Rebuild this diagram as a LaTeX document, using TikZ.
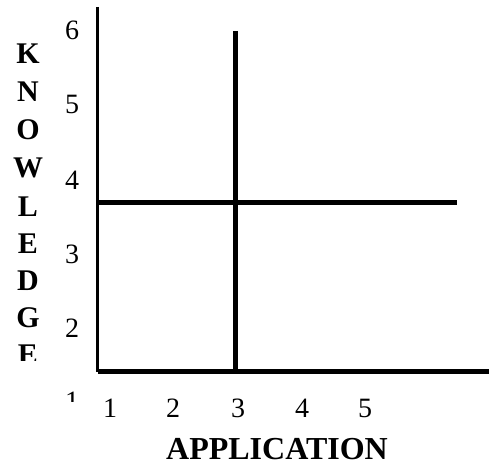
\documentclass[tikz,border=0pt]{standalone}
\usepackage{fontspec}
\setmainfont{Liberation Serif}
\usepackage{tikz}
\pgfdeclarelayer{edgelayer}
\pgfdeclarelayer{nodelayer}
\pgfsetlayers{edgelayer,nodelayer,main}
\tikzstyle{none}=[inner sep=0pt]
\tikzstyle{edge}=[draw=black, line width=4.6pt]
\tikzstyle{tick}=[inner sep=0pt, font=\fontsize{28}{28}\selectfont]
\tikzstyle{letter}=[inner sep=0pt, font=\fontsize{30}{30}\selectfont\bfseries]
\tikzstyle{title}=[inner sep=0pt, font=\fontsize{32}{32}\selectfont\bfseries]

\begin{document}
\begin{tikzpicture}[x=1pt, y=-1pt]
			\useasboundingbox (0, 0) rectangle (495, 468);
			\begin{pgfonlayer}{nodelayer}
			\node [style=none] (0) at (97.5, 7) {};
			\node [style=none] (1) at (97.5, 371.5) {};
			\node [style=none] (2) at (489, 371.5) {};
			\node [style=none] (3) at (97.5, 202.5) {};
			\node [style=none] (4) at (457, 202.5) {};
			\node [style=none] (5) at (235.7, 31) {};
			\node [style=none] (6) at (235.7, 371.5) {};
			\node [style=tick] (10) at (72, 30) {6};
			\node [style=tick] (11) at (72, 104) {5};
			\node [style=tick] (12) at (72, 180) {4};
			\node [style=tick] (13) at (72, 254) {3};
			\node [style=tick] (14) at (72, 328) {2};
			\node [style=tick] (20) at (110, 408) {1};
			\node [style=tick] (21) at (173, 408) {2};
			\node [style=tick] (22) at (238, 408) {3};
			\node [style=tick] (23) at (302, 408) {4};
			\node [style=tick] (24) at (365, 408) {5};
			\node [style=letter] (30) at (28, 54) {K};
			\node [style=letter] (31) at (28, 92) {N};
			\node [style=letter] (32) at (28, 130) {O};
			\node [style=letter] (33) at (28, 168) {W};
			\node [style=letter] (34) at (28, 207) {L};
			\node [style=letter] (35) at (28, 244) {E};
			\node [style=letter] (36) at (28, 281) {D};
			\node [style=letter] (37) at (28, 318) {G};
			\node [style=title] (40) at (277, 449) {APPLICATION};
			\begin{scope}
			\clip (0, 330) rectangle (60, 360);
			\node [style=letter] (38) at (28, 355) {E};
			\end{scope}
			\begin{scope}
			\clip (50, 380) rectangle (95, 401);
			\node [style=tick] (15) at (72, 401) {1};
			\end{scope}
			\end{pgfonlayer}
			\begin{pgfonlayer}{edgelayer}
			\draw [style=edge, line width=3.8pt] (0.center) to (1.center);
			\draw [style=edge] (1.center) to (2.center);
			\draw [style=edge] (3.center) to (4.center);
			\draw [style=edge] (5.center) to (6.center);
			\end{pgfonlayer}
\end{tikzpicture}
\end{document}
